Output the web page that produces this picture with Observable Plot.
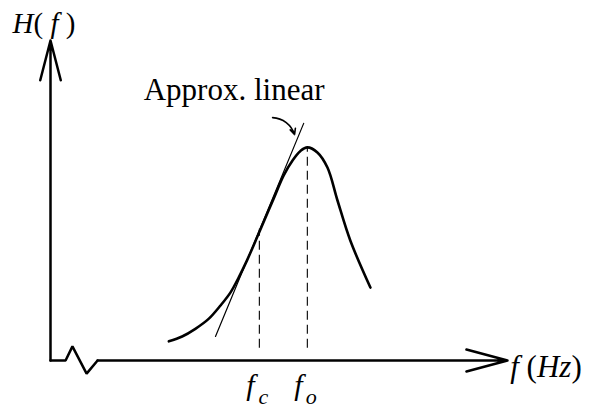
<!DOCTYPE html>
<html>
<head>
<meta charset="utf-8">
<script src="https://cdn.jsdelivr.net/npm/d3@7"></script>
<script src="https://cdn.jsdelivr.net/npm/@observablehq/plot@0.6"></script>
<style>
  html, body { margin: 0; padding: 0; background: #fff; }
  svg text { font-family: "Liberation Serif", "Times New Roman", serif; }
</style>
</head>
<body>
<div id="chart"></div>
<script>
// Response curve H(f) (arbitrary units: f 0..100, H 0..100)
const curveF = [25.9, 28.8, 31.7, 34.6, 37.2, 39.4, 41.2, 43.0, 44.9, 46.4, 48.8, 51.0, 53.0, 54.7, 56.2, 58.4, 60.6, 62.8, 65.6, 70.0];
const curveH = [6.0, 7.5, 9.9, 13.0, 17.2, 21.3, 26.0, 31.3, 37.5, 42.5, 50.5, 57.8, 62.6, 65.5, 66.6, 65.0, 60.3, 50.0, 37.5, 22.8];

// Straight-line (linear) approximation
const tangentF = [36.1, 55.4];
const tangentH = [7.5, 74.1];

// Marked frequencies and dashed guide lines
const markNames = ["c", "o"];
const markF = [45.7, 56.2];
const markTopH = [41.0, 66.6];
const markBottomH = [3.8, 3.8];

// Axis break (zigzag) on the frequency axis
const breakF = [0, 3.3, 4.8, 7.9, 10.3];
const breakH = [0, 0, 4.4, -4.1, 0];

// Annotation pointer
const pointerF = [48.6, 53.4];
const pointerH = [75.9, 70.6];

const annotation = "Approx. linear";
const yLabel = "H( f )";
const xLabel = "f\u00a0(Hz)";

const curve = curveF.map((f, i) => ({f, h: curveH[i]}));
const tangent = tangentF.map((f, i) => ({f, h: tangentH[i]}));
const zig = breakF.map((f, i) => ({f, h: breakH[i]}));
const marks = markNames.map((n, i) => ({n, f: markF[i], top: markTopH[i], bot: markBottomH[i]}));
const pointer = [{x1: pointerF[0], y1: pointerH[0], x2: pointerF[1], y2: pointerH[1]}];

const serif = "Liberation Serif";

const chart = Plot.plot({
  width: 596,
  height: 410,
  margin: 0,
  style: {background: "#fff", color: "#000"},
  x: {domain: [0, 100], range: [50, 507], axis: null},
  y: {domain: [0, 100], range: [360, 40], axis: null},
  marks: [
    // dashed guides
    Plot.ruleX(marks, {x: "f", y1: "bot", y2: "top", stroke: "#000", strokeWidth: 1.1, strokeDasharray: "9,5"}),
    // tangent
    Plot.line(tangent, {x: "f", y: "h", stroke: "#000", strokeWidth: 1.2}),
    // response curve
    Plot.line(curve, {x: "f", y: "h", curve: "catmull-rom", stroke: "#000", strokeWidth: 2.6}),
    // y axis with arrow
    Plot.arrow([{x1: 0, y1: 0, x2: 0, y2: 100}], {x1: "x1", y1: "y1", x2: "x2", y2: "y2", stroke: "#000", strokeWidth: 2.5, headAngle: 29, headLength: 24.6}),
    // x axis: break then arrow
    Plot.line(zig, {x: "f", y: "h", stroke: "#000", strokeWidth: 2.5, strokeLinejoin: "miter"}),
    Plot.arrow([{x1: breakF[breakF.length - 1], y1: 0, x2: 100, y2: 0}], {x1: "x1", y1: "y1", x2: "x2", y2: "y2", stroke: "#000", strokeWidth: 2.5, headAngle: 30, headLength: 25.5}),
    // pointer arrow
    Plot.arrow(pointer, {x1: "x1", y1: "y1", x2: "x2", y2: "y2", bend: 35, stroke: "#000", strokeWidth: 1.6, headAngle: 50, headLength: 6}),
    // texts
    Plot.text([annotation], {x: 20.4, y: 84.5, text: d => d, textAnchor: "start", fontSize: 31, fontFamily: serif, fill: "#000"}),
    Plot.text([yLabel], {x: -8.3, y: 105.3, text: d => d, textAnchor: "start", fontSize: 29, fontFamily: serif, fill: "#000", className: "mixed-label"}),
    Plot.text([xLabel], {x: 100.6, y: -1.9, text: d => d, textAnchor: "start", fontSize: 31, fontFamily: serif, fill: "#000", className: "mixed-label"}),
    Plot.text(marks, {x: "f", y: 0, dy: 25, dx: -9, text: () => "f", fontSize: 30, fontFamily: serif, fontStyle: "italic", fill: "#000"}),
    Plot.text(marks, {x: "f", y: 0, dy: 36, dx: 4, text: "n", fontSize: 22, fontFamily: serif, fontStyle: "italic", fill: "#000"})
  ]
});

// Letters italic, parentheses upright (math style)
const svgNS = "http://www.w3.org/2000/svg";
chart.querySelectorAll(".mixed-label text").forEach(t => {
  const s = t.textContent;
  const runs = s.match(/[A-Za-z]+|[^A-Za-z]+/g) || [];
  t.textContent = "";
  runs.forEach(r => {
    const ts = document.createElementNS(svgNS, "tspan");
    ts.textContent = r;
    if (/[A-Za-z]/.test(r)) ts.setAttribute("font-style", "italic");
    t.appendChild(ts);
  });
});

document.getElementById("chart").appendChild(chart);
</script>
</body>
</html>
